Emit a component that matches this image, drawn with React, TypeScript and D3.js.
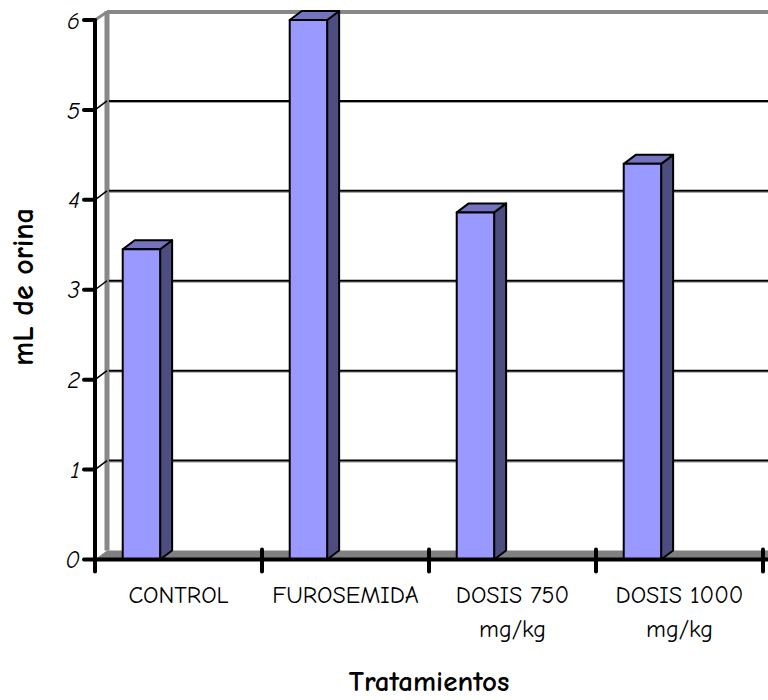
import React from "react";
import * as d3 from "d3";

// Treatments and measured urine volume (mL)
const categories = ["CONTROL", "FUROSEMIDA", "DOSIS 750 mg/kg", "DOSIS 1000 mg/kg"];
const labelLines = [["CONTROL"], ["FUROSEMIDA"], ["DOSIS 750", "mg/kg"], ["DOSIS 1000", "mg/kg"]];
const values = [3.45, 6.0, 3.86, 4.4];
const yTicks = [0, 1, 2, 3, 4, 5, 6];

const W = 768;
const H = 700;
const FONT = "'Comic Sans MS', 'Comic Neue', 'DejaVu Sans', sans-serif";

// 3D depth offset of the back wall / bar sides
const DX = 12;
const DY = 9;

export default function App() {
  const x = d3.scaleBand<string>().domain(categories).range([95, 763]).padding(0);
  const y = d3.scaleLinear().domain([0, 6]).range([559.5, 20]);
  const bw = x.bandwidth();
  const barOffset = bw * 0.166;
  const barW = bw * 0.224;

  const left = 95;
  const right = W;
  const y0 = y(0);
  const yTop = y(6);

  return (
    <div style={{ position: "fixed", left: 0, top: 0 }}>
      <svg width={W} height={H} style={{ display: "block", background: "#fff" }}>
        {/* back wall edges */}
        <line x1={left + DX} x2={right} y1={yTop - DY + 1} y2={yTop - DY + 1} stroke="#888" strokeWidth={4} />
        <line x1={left + DX} x2={left + DX} y1={yTop - DY} y2={y0 - DY} stroke="#888" strokeWidth={5} />
        <line x1={left} y1={yTop} x2={left + DX} y2={yTop - DY + 1} stroke="#888" strokeWidth={3} />

        {/* gridlines on back wall */}
        {yTicks.filter((t) => t > 0 && t < 6).map((t) => (
          <g key={"g" + t}>
            <line x1={left + DX + 2} x2={right} y1={y(t) - DY + 1.5} y2={y(t) - DY + 1.5} stroke="#999" strokeWidth={1} />
            <line x1={left + DX + 2} x2={right} y1={y(t) - DY} y2={y(t) - DY} stroke="#000" strokeWidth={2} />
            <line x1={left} y1={y(t)} x2={left + DX} y2={y(t) - DY} stroke="#000" strokeWidth={1.5} />
          </g>
        ))}

        {/* floor */}
        <path
          d={`M${left},${y0} L${right},${y0} L${right},${y0 - DY} L${left + DX},${y0 - DY} Z`}
          fill="#808080"
        />

        {/* bars */}
        {values.map((v, i) => {
          const bx = (x(categories[i]) as number) + barOffset;
          const by = y(v);
          const bx2 = bx + barW;
          return (
            <g key={"b" + i} stroke="#000" strokeWidth={2} strokeLinejoin="round">
              <path
                d={`M${bx2},${by} L${bx2 + DX},${by - DY} L${bx2 + DX},${y0 - DY} L${bx2},${y0} Z`}
                fill="#4d4d80"
              />
              <path
                d={`M${bx},${by} L${bx + DX},${by - DY} L${bx2 + DX},${by - DY} L${bx2},${by} Z`}
                fill="#7373bf"
              />
              <rect x={bx} y={by} width={barW} height={y0 - by} fill="#9999ff" />
            </g>
          );
        })}

        {/* x axis */}
        <line x1={left} x2={right} y1={y0} y2={y0} stroke="#000" strokeWidth={4} />
        {[...categories.map((c) => x(c) as number), 763].map((tx, i) => (
          <line key={"xt" + i} x1={tx} x2={tx} y1={y0 - 10} y2={y0 + 12} stroke="#000" strokeWidth={4} strokeLinecap="round" />
        ))}

        {/* y axis */}
        <line x1={left} x2={left} y1={yTop - 1} y2={y0 + 11} stroke="#000" strokeWidth={4} />
        {yTicks.map((t) => (
          <g key={"yt" + t}>
            <line x1={84} x2={left} y1={y(t)} y2={y(t)} stroke="#000" strokeWidth={4} strokeLinecap="round" />
            <text
              x={80}
              y={y(t)}
              dy="0.36em"
              textAnchor="end"
              fontFamily={FONT}
              fontStyle="italic"
              fontSize={24}
              fill="#000"
            >
              {t}
            </text>
          </g>
        ))}

        {/* category labels */}
        {labelLines.map((lines, i) => {
          const cx = (x(categories[i]) as number) + bw / 2;
          return (
            <text key={"cl" + i} x={cx} textAnchor="middle" fontFamily={FONT} fontSize={24} fill="#000">
              {lines.map((ln, j) => (
                <tspan key={j} x={cx} y={603 + j * 34}>
                  {ln}
                </tspan>
              ))}
            </text>
          );
        })}

        {/* axis titles */}
        <text x={429} y={691} textAnchor="middle" fontFamily={FONT} fontWeight="bold" fontSize={29} fill="#000">
          Tratamientos
        </text>
        <text
          transform={`translate(33,287) rotate(-90)`}
          textAnchor="middle"
          fontFamily={FONT}
          fontWeight="bold"
          fontSize={30}
          fill="#000"
        >
          mL de orina
        </text>
      </svg>
    </div>
  );
}
